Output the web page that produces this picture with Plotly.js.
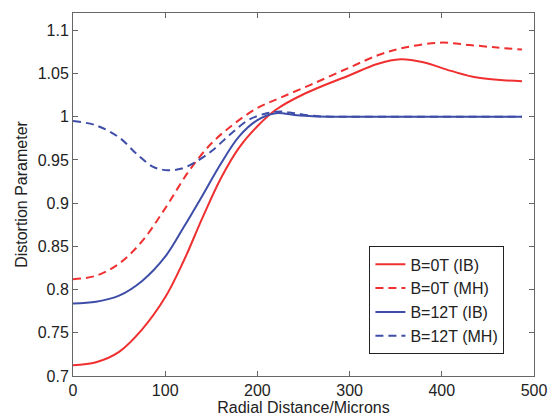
<!DOCTYPE html>
<html>
<head>
<meta charset="utf-8">
<script src="https://cdn.plot.ly/plotly-3.0.1.min.js"></script>
<style>html,body{margin:0;padding:0;background:#fff;}#chart{width:556px;height:418px;}</style>
</head>
<body>
<div id="chart"></div>
<script>
// B=0T (IB)
const xRedIB = [0, 25, 50, 75, 100, 120, 140, 160, 180, 200, 220, 250, 300, 330, 355, 380, 410, 440, 487];
const yRedIB = [0.7125, 0.716, 0.728, 0.754, 0.791, 0.833, 0.882, 0.928, 0.964, 0.989, 1.008, 1.026, 1.048, 1.061, 1.0665, 1.063, 1.053, 1.045, 1.041];
// B=0T (MH)
const xRedMH = [0, 25, 50, 75, 100, 125, 150, 175, 200, 225, 260, 300, 333, 360, 398, 430, 460, 487];
const yRedMH = [0.812, 0.816, 0.830, 0.856, 0.894, 0.936, 0.969, 0.992, 1.010, 1.022, 1.038, 1.057, 1.072, 1.080, 1.0857, 1.083, 1.080, 1.0777];
// B=12T (IB)
const xBlueIB = [0, 25, 50, 75, 100, 120, 140, 160, 180, 200, 220, 240, 260, 280, 350, 420, 487];
const yBlueIB = [0.784, 0.786, 0.793, 0.810, 0.838, 0.872, 0.908, 0.945, 0.977, 0.996, 1.004, 1.002, 1.0005, 1.000, 1.000, 1.000, 1.000];
// B=12T (MH)
const xBlueMH = [0, 25, 50, 70, 87, 103, 118, 132, 150, 170, 190, 210, 225, 240, 260, 280, 350, 420, 487];
const yBlueMH = [0.995, 0.990, 0.976, 0.956, 0.942, 0.938, 0.940, 0.947, 0.960, 0.979, 0.996, 1.004, 1.006, 1.004, 1.001, 1.000, 1.000, 1.000, 1.000];

const names = ['B=0T (IB)', 'B=0T (MH)', 'B=12T (IB)', 'B=12T (MH)'];
const red = 'rgb(240,48,48)';
const blue = 'rgb(62,78,168)';

function tr(x, y, name, color, dash, g) {
  return {x: x, y: y, name: name, type: 'scatter', mode: 'lines', legendgroup: g,
    line: {color: color, width: 2, dash: dash, shape: 'spline', smoothing: 1}};
}
const data = [
  tr(xRedIB, yRedIB, names[0], red, 'solid', 'a'),
  tr(xRedMH, yRedMH, names[1], red, '8px,5px', 'b'),
  tr(xBlueIB, yBlueIB, names[2], blue, 'solid', 'c'),
  tr(xBlueMH, yBlueMH, names[3], blue, '8px,5px', 'd')
];

const axisCommon = {
  showline: true, linecolor: '#666', linewidth: 1, mirror: 'ticks',
  ticks: 'inside', ticklen: 5, tickcolor: '#666', showgrid: false, zeroline: false,
  tickfont: {size: 16, color: '#222'}
};

const layout = {
  width: 556, height: 418,
  margin: {l: 73, r: 22, t: 13, b: 42},
  paper_bgcolor: '#fff', plot_bgcolor: '#fff',
  font: {family: '"Liberation Sans", Arial, Helvetica, sans-serif', color: '#222'},
  xaxis: Object.assign({}, axisCommon, {
    range: [0, 500], tickvals: [0, 100, 200, 300, 400, 500],
    title: {text: 'Radial Distance/Microns', font: {size: 16, color: '#222'}, standoff: 2}
  }),
  yaxis: Object.assign({}, axisCommon, {
    range: [0.7, 1.12], tickvals: [0.7, 0.75, 0.8, 0.85, 0.9, 0.95, 1, 1.05, 1.1],
    ticktext: ['0.7', '0.75', '0.8', '0.85', '0.9', '0.95', '1', '1.05', '1.1'],
    title: {text: 'Distortion Parameter', font: {size: 16, color: '#222'}, standoff: 6}
  }),
  showlegend: true,
  legend: {
    x: 0.643, y: 0.357, xanchor: 'left', yanchor: 'top',
    bgcolor: '#fff', bordercolor: '#222', borderwidth: 1,
    font: {size: 16, color: '#222'}, traceorder: 'normal', tracegroupgap: 0
  }
};

Plotly.newPlot('chart', data, layout, {displayModeBar: false, staticPlot: true});
</script>
</body>
</html>
